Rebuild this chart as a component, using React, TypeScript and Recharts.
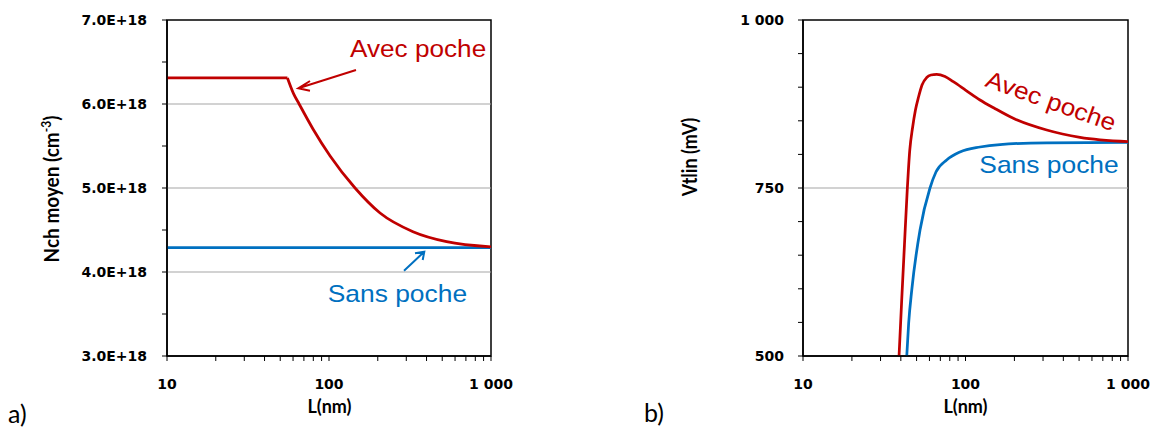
import React from 'react';
import { LineChart, Line, XAxis, YAxis, ReferenceLine, ReferenceArea } from 'recharts';

// ---- axes ----
const xTicks = [10, 20, 30, 40, 50, 60, 70, 80, 90, 100, 200, 300, 400, 500, 600, 700, 800, 900, 1000];
const xMajor = [10, 100, 1000];
const xMajorLabels = ['10', '100', '1 000'];

const nchTicks = [3e18, 3.5e18, 4e18, 4.5e18, 5e18, 5.5e18, 6e18, 6.5e18, 7e18];
const nchMajor = [3e18, 4e18, 5e18, 6e18, 7e18];
const nchMajorLabels = ['3.0E+18', '4.0E+18', '5.0E+18', '6.0E+18', '7.0E+18'];
const nchGrid = [4e18, 5e18, 6e18];

const vtTicks = [500, 550, 600, 650, 700, 750, 800, 850, 900, 950, 1000];
const vtMajor = [500, 750, 1000];
const vtMajorLabels = ['500', '750', '1 000'];
const vtGrid = [750];

// ---- data: a) Nch moyen ----
// "Avec poche": plateau, then decay beyond the kink at ~55 nm
const nchAvecFlatL = [10, 30, 55.4];
const nchAvecFlatV = [6.31e18, 6.31e18, 6.31e18];
const nchAvecDecayL = [55.4, 60.3, 65.4, 79.8, 101.6, 144.8, 206.6, 330, 532, 1000];
const nchAvecDecayV = [6.31e18, 6.127e18, 6.0e18, 5.70e18, 5.381e18, 5.0e18, 4.702e18, 4.48e18, 4.361e18, 4.30e18];
const nchSansL = [10, 100, 1000];
const nchSansV = [4.29e18, 4.29e18, 4.29e18];

// ---- data: b) Vtlin ----
const vtAvecL = [39.0, 40.5, 42.1, 43.8, 45.4, 47.2, 49.2, 51.4, 54.0, 57.7, 61.3, 66.5, 74.8, 84.1, 100, 122.8, 149.8, 196.9, 316, 506.6, 1000];
const vtAvecV = [500, 583.3, 665.2, 747.0, 806.5, 839.3, 866.1, 885.4, 903.3, 914.4, 918.2, 919.2, 915.9, 908.2, 895.8, 881.0, 869.0, 853.7, 836.3, 825.4, 819];
const vtSansL = [43.5, 44.7, 46.7, 52.5, 60.4, 65.8, 76.6, 92.5, 122.8, 163.1, 316, 1000];
const vtSansV = [500, 549.1, 598.2, 687.5, 749.6, 773.8, 791.7, 803.6, 811.0, 814.7, 817.3, 818];

const zip = (xs: number[], ys: number[]) => xs.map((L, i) => ({ L, v: ys[i] }));
const nchAvecFlat = zip(nchAvecFlatL, nchAvecFlatV);
const nchAvecDecay = zip(nchAvecDecayL, nchAvecDecayV);
const nchSans = zip(nchSansL, nchSansV);
const vtAvec = zip(vtAvecL, vtAvecV);
const vtSans = zip(vtSansL, vtSansV);

const RED = '#c00000';
const BLUE = '#0070c0';
const GRID = '#a6a6a6';
const TICK_FONT = '"DejaVu Sans", sans-serif';
const TITLE_FONT = 'Lato, "Open Sans", sans-serif';
const ANN_FONT = '"Liberation Sans", Arial, sans-serif';

const findIdx = (arr: number[], v: number) => arr.findIndex((a) => Math.abs(a - v) <= Math.abs(a) * 1e-6);

const XTick = (props: any) => {
  const { x, y, payload } = props;
  const i = findIdx(xMajor, payload.value);
  if (i < 0) return <g />;
  return (
    <text x={x} y={y + 26} textAnchor="middle" fontFamily={TICK_FONT} fontWeight={700} fontSize={14} fill="#000">
      {xMajorLabels[i]}
    </text>
  );
};

const makeYTick = (majors: number[], labels: string[]) => (props: any) => {
  const { x, y, payload } = props;
  const i = findIdx(majors, payload.value);
  if (i < 0) return <g />;
  return (
    <text x={x} y={y + 5.3} textAnchor="end" fontFamily={TICK_FONT} fontWeight={700} fontSize={14} fill="#000">
      {labels[i]}
    </text>
  );
};
const NchTick = makeYTick(nchMajor, nchMajorLabels);
const VtTick = makeYTick(vtMajor, vtMajorLabels);

const axisLine = { stroke: '#000', strokeWidth: 1.5 };
const tickLine = { stroke: '#000', strokeWidth: 1 };

export default function App() {
  return (
    <div style={{ position: 'absolute', left: 0, top: 0, width: 1155, height: 430, background: '#fff' }}>
      <div style={{ position: 'absolute', left: 0, top: 0 }}>
        <LineChart width={520} height={430} margin={{ top: 20, right: 29, left: 0, bottom: 0 }}>
          <XAxis dataKey="L" type="number" scale="log" domain={[10, 1000]} ticks={xTicks} allowDataOverflow
            height={74} tickSize={5} tick={XTick} axisLine={axisLine} tickLine={tickLine} interval={0} />
          <YAxis type="number" domain={[3e18, 7e18]} ticks={nchTicks} allowDataOverflow width={167}
            tickSize={5} tickMargin={15} tick={NchTick} axisLine={axisLine} tickLine={tickLine} interval={0} />
          {nchGrid.map((g) => (
            <ReferenceLine key={g} y={g} stroke={GRID} strokeWidth={1.2} />
          ))}
          <ReferenceArea x1={10} x2={1000} y1={3e18} y2={7e18} fill="none" fillOpacity={0} stroke="#000" strokeWidth={1.5} />
          <Line data={nchSans} dataKey="v" name="Sans poche" type="linear" stroke={BLUE} strokeWidth={2.75} dot={false} isAnimationActive={false} />
          <Line data={nchAvecFlat} dataKey="v" name="Avec poche" type="linear" stroke={RED} strokeWidth={2.75} dot={false} isAnimationActive={false} />
          <Line data={nchAvecDecay} dataKey="v" name="Avec poche" type="monotone" stroke={RED} strokeWidth={2.75} dot={false} isAnimationActive={false} />
        </LineChart>
      </div>
      <div style={{ position: 'absolute', left: 600, top: 0 }}>
        <LineChart width={555} height={430} margin={{ top: 20, right: 27, left: 0, bottom: 0 }}>
          <XAxis dataKey="L" type="number" scale="log" domain={[10, 1000]} ticks={xTicks} allowDataOverflow
            height={74} tickSize={5} tick={XTick} axisLine={axisLine} tickLine={tickLine} interval={0} />
          <YAxis type="number" domain={[500, 1000]} ticks={vtTicks} allowDataOverflow width={203}
            tickSize={5} tickMargin={14} tick={VtTick} axisLine={axisLine} tickLine={tickLine} interval={0} />
          {vtGrid.map((g) => (
            <ReferenceLine key={g} y={g} stroke={GRID} strokeWidth={1.2} />
          ))}
          <ReferenceArea x1={10} x2={1000} y1={500} y2={1000} fill="none" fillOpacity={0} stroke="#000" strokeWidth={1.5} />
          <Line data={vtSans} dataKey="v" name="Sans poche" type="monotone" stroke={BLUE} strokeWidth={2.75} dot={false} isAnimationActive={false} />
          <Line data={vtAvec} dataKey="v" name="Avec poche" type="monotone" stroke={RED} strokeWidth={2.75} dot={false} isAnimationActive={false} />
        </LineChart>
      </div>
      <svg width={1155} height={430} style={{ position: 'absolute', left: 0, top: 0, pointerEvents: 'none' }}>
        {/* axis titles */}
        <text transform="translate(59,189) rotate(-90) scale(1,1.12)" textAnchor="middle" fontFamily={TITLE_FONT} fontWeight={700} fontSize={19} fill="#000">
          Nch moyen (cm<tspan dy={-7} fontSize={12}>-3</tspan><tspan dy={7}>)</tspan>
        </text>
        <text transform="translate(697,157) rotate(-90) scale(1,1.12)" textAnchor="middle" fontFamily={TITLE_FONT} fontWeight={700} fontSize={18} fill="#000">
          Vtlin (mV)
        </text>
        <text x={329.5} y={413} textAnchor="middle" fontFamily={TITLE_FONT} fontWeight={700} fontSize={18} fill="#000">L(nm)</text>
        <text x={965.5} y={413} textAnchor="middle" fontFamily={TITLE_FONT} fontWeight={700} fontSize={18} fill="#000">L(nm)</text>
        {/* panel letters */}
        <text x={8} y={423} fontFamily={TITLE_FONT} fontSize={25} fill="#000">a)</text>
        <text x={644} y={422} fontFamily={TITLE_FONT} fontSize={25} fill="#000">b)</text>
        {/* annotations a) */}
        <text transform="translate(350,57) scale(1.09,1)" fontFamily={ANN_FONT} fontSize={24} fill={RED}>Avec poche</text>
        <path d="M356,70 L298.3,88.3 M310,81 L298.3,88.3 L310,90.7" fill="none" stroke={RED} strokeWidth={2} strokeLinejoin="miter" />
        <text transform="translate(327.7,302) scale(1.1,1)" fontFamily={ANN_FONT} fontSize={24} fill={BLUE}>Sans poche</text>
        <path d="M404,270.7 L424.3,251.7 M415,253.3 L424.3,251.7 L422.7,260" fill="none" stroke={BLUE} strokeWidth={2} />
        {/* annotations b) */}
        <text transform="translate(984,86) rotate(19.5) scale(1.09,1)" fontFamily={ANN_FONT} fontSize={24} fill={RED}>Avec poche</text>
        <text transform="translate(979.3,172.5) scale(1.1,1)" fontFamily={ANN_FONT} fontSize={24} fill={BLUE}>Sans poche</text>
      </svg>
    </div>
  );
}
